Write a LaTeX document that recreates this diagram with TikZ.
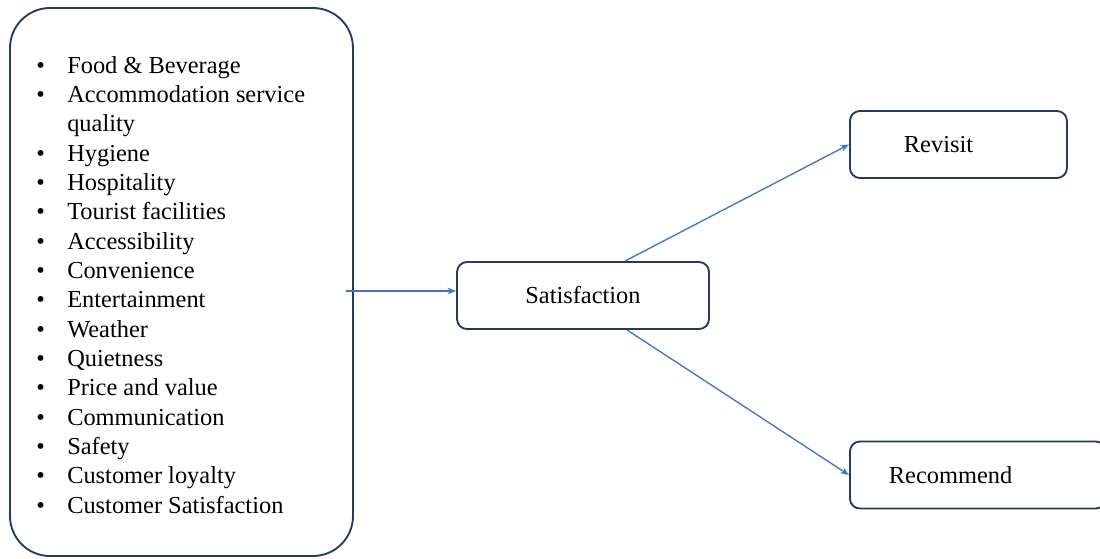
\documentclass[tikz,border=0pt]{standalone}
\usepackage{fontspec}
\setmainfont{Liberation Serif}
\usetikzlibrary{positioning, arrows.meta}
\definecolor{boxnavy}{HTML}{253A5E}
\definecolor{linkblue}{HTML}{4472C4}
\newcommand{\bul}{\makebox[23.25pt][l]{\textbullet}}
\newcommand{\nobul}{\makebox[23.25pt][l]{}}
\tikzset{
	>={Stealth[length=6.5pt, width=5pt]}, % arrow heads
	bigbox/.style={draw=boxnavy, line width=1.4pt, rounded corners=30pt, minimum width=257.25pt, minimum height=411pt}, % the factor box
	outbox/.style={draw=boxnavy, line width=1.4pt, rounded corners=7.5pt, minimum height=50.25pt, align=left, inner ysep=0pt}, % result boxes
	link/.style={->, draw=linkblue, line width=1pt}, % blue connectors
	every node/.style={font=\fontsize{18.3}{22}\selectfont},
}
\begin{document}
\begin{tikzpicture}[x=0.75pt, y=-0.75pt]
	\useasboundingbox (0,0) rectangle (1100,558);
			\node[bigbox] (factors) at (181.5,282) {};
			\node[anchor=north west, inner sep=0pt] (items) at (36,52.5) {%
				\begin{tabular}{@{}l@{}}
				\bul Food \& Beverage\\
				\bul Accommodation service\\
				\nobul quality\\
				\bul Hygiene\\
				\bul Hospitality\\
				\bul Tourist facilities\\
				\bul Accessibility\\
				\bul Convenience\\
				\bul Entertainment\\
				\bul Weather\\
				\bul Quietness\\
				\bul Price and value\\
				\bul Communication\\
				\bul Safety\\
				\bul Customer loyalty\\
				\bul Customer Satisfaction
				\end{tabular}};
			\coordinate (in) at (346,291);
			\node[outbox, minimum width=189pt, align=center] (sat) at (583,295.5) {Satisfaction};
			\node[outbox, anchor=west, inner xsep=40.5pt, text width=81.75pt] (rev) at (849,144.5) {Revisit};
			\node[outbox, anchor=west, inner xsep=29.25pt, text width=133.5pt] (rec) at (849,475) {Recommend};
	\draw[link] (in) -- (in -| sat.west);
	\draw[link] ([xshift=31.5pt]sat.north) -- (rev.west);
	\draw[link] ([xshift=33pt]sat.south) -- (rec.west);
\end{tikzpicture}
\end{document}
